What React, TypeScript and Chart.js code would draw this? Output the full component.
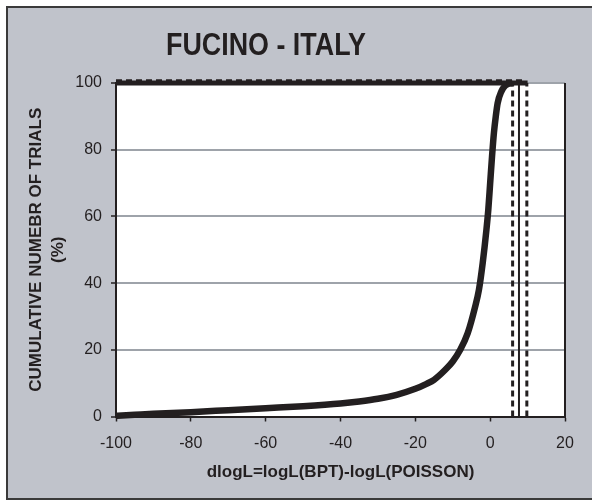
import React, { useEffect, useRef } from "react";
import { Chart, registerables } from "chart.js";

Chart.register(...registerables);

// Cumulative distribution of dlogL over the simulated trials (%)
const dlogL = [-100, -95, -90, -80, -70, -60, -50, -40, -35, -30, -25, -20, -17, -15, -12, -10, -8, -6, -4, -3, -2, -1, -0.5, 0, 0.5, 1, 1.5, 2, 3, 4, 5, 6];
const cumulativePct = [0.2, 0.5, 0.8, 1.3, 1.9, 2.5, 3.1, 3.9, 4.5, 5.3, 6.5, 8.3, 9.8, 11, 14, 16.5, 20, 25, 33, 38, 46, 56, 62, 70, 78, 85, 90, 94, 97.5, 99.2, 99.8, 100];

// Reference lines
const fullLevelX = [-100, 10];
const fullLevelY = [100, 100];
const dashedLevelX = [-100, 8.6];
const dashedLevelY = [100.7, 100.7];
const lowerX = 6.0;
const medianX = 7.7;
const upperX = 9.8;

const xTicks = [-100, -80, -60, -40, -20, 0, 20];
const yTicks = [0, 20, 40, 60, 80, 100];

const TITLE = "FUCINO - ITALY";
const X_TITLE = "dlogL=logL(BPT)-logL(POISSON)";
const Y_TITLE = ["CUMULATIVE NUMEBR OF TRIALS", "(%)"];

const INK = "#231f20";
const GRID = "#9ea3aa";

const pts = (xs: number[], ys: number[]) => xs.map((x, i) => ({ x, y: ys[i] }));

export default function App() {
  const ref = useRef<HTMLCanvasElement | null>(null);

  useEffect(() => {
    if (!ref.current) return;
    Chart.defaults.font.family = "'Liberation Sans', Arial, sans-serif";

    const decorations = {
      id: "decorations",
      beforeDraw(chart: any) {
        const { ctx, chartArea } = chart;
        ctx.save();
        ctx.fillStyle = "#ffffff";
        ctx.fillRect(chartArea.left, chartArea.top, chartArea.right - chartArea.left, chartArea.bottom - chartArea.top);
        ctx.restore();
      },
      afterDraw(chart: any) {
        const { ctx, chartArea } = chart;
        ctx.save();
        // right frame of the plot area
        ctx.strokeStyle = INK;
        ctx.lineWidth = 2;
        ctx.beginPath();
        ctx.moveTo(chartArea.right, chartArea.top);
        ctx.lineTo(chartArea.right, chartArea.bottom);
        ctx.stroke();
        // chart title
        ctx.fillStyle = INK;
        ctx.font = "bold 32px 'Liberation Sans Narrow', 'Arial Narrow', 'Liberation Sans', sans-serif";
        ctx.textAlign = "center";
        ctx.textBaseline = "alphabetic";
        const w = ctx.measureText(TITLE).width;
        const target = 200;
        const cx = 266;
        if (w > target * 1.08) {
          ctx.translate(cx, 55);
          ctx.scale(target / w, 1);
          ctx.fillText(TITLE, 0, 0);
        } else {
          ctx.fillText(TITLE, cx, 55);
        }
        ctx.restore();
      },
    };

    const vline = (x: number, dashed: boolean, width: number) => ({
      data: [{ x, y: 0 }, { x, y: 100 }],
      borderColor: INK,
      borderWidth: width,
      borderDash: dashed ? [6, 4] : [],
      pointRadius: 0,
      showLine: true,
      clip: false as any,
    });

    const chart = new Chart(ref.current, {
      type: "scatter",
      data: {
        datasets: [
          {
            label: "dashed level",
            data: pts(dashedLevelX, dashedLevelY),
            borderColor: INK,
            borderWidth: 3,
            borderDash: [6, 4],
            pointRadius: 0,
            showLine: true,
            clip: false as any,
          },
          { label: "lower", ...vline(lowerX, true, 3) },
          { label: "median", ...vline(medianX, false, 2) },
          { label: "upper", ...vline(upperX, true, 3) },
          {
            label: "full level",
            data: pts(fullLevelX, fullLevelY),
            borderColor: INK,
            borderWidth: 5,
            pointRadius: 0,
            showLine: true,
            clip: false as any,
          },
          {
            label: "trials",
            data: pts(dlogL, cumulativePct),
            borderColor: INK,
            borderWidth: 6.5,
            pointRadius: 0,
            showLine: true,
            cubicInterpolationMode: "monotone",
            clip: false as any,
          },
        ],
      },
      options: {
        animation: false,
        responsive: false,
        maintainAspectRatio: false,
        layout: { padding: { left: 10, top: 83, right: 27, bottom: 14.5 } },
        plugins: { legend: { display: false }, tooltip: { enabled: false }, title: { display: false } },
        scales: {
          x: {
            type: "linear",
            min: -100,
            max: 20,
            afterBuildTicks: (s: any) => {
              s.ticks = xTicks.map((v) => ({ value: v }));
            },
            afterFit: (s: any) => {
              s.height = 70;
            },
            ticks: { color: INK, font: { size: 16 }, padding: 12, maxRotation: 0 },
            grid: { drawOnChartArea: false, tickColor: INK, tickLength: 5, tickWidth: 1.5 },
            border: { color: INK, width: 2 },
            title: {
              display: true,
              text: X_TITLE,
              color: INK,
              font: { size: 17, weight: "bold" },
              padding: { top: 0, bottom: 4 },
            },
          },
          y: {
            type: "linear",
            min: 0,
            max: 100,
            afterBuildTicks: (s: any) => {
              s.ticks = yTicks.map((v) => ({ value: v }));
            },
            afterFit: (s: any) => {
              s.width = 106;
            },
            ticks: { color: INK, font: { size: 16 }, padding: 9 },
            grid: { color: GRID, lineWidth: 2, tickColor: INK, tickLength: 5, tickWidth: 1.5 },
            border: { color: INK, width: 2 },
            title: {
              display: true,
              text: Y_TITLE,
              color: INK,
              font: { size: 17, weight: "bold", lineHeight: 1.265 },
              padding: { top: 15.75, bottom: 0 },
            },
          },
        },
      },
      plugins: [decorations],
    });
    return () => chart.destroy();
  }, []);

  return (
    <div style={{ position: "fixed", left: 0, top: 0, width: 592, height: 501, background: "#fff" }}>
      <div
        style={{
          position: "absolute",
          left: 6,
          top: 6,
          width: 586,
          height: 494,
          boxSizing: "border-box",
          background: "#c0c3cb",
          borderTop: "2px solid #3a3a3a",
          borderLeft: "2px solid #3a3a3a",
          borderBottom: "2px solid #3a3a3a",
        }}
      />
      <div style={{ position: "absolute", left: 0, top: 0, width: 592, height: 501 }}>
        <canvas ref={ref} width={592} height={501} style={{ width: 592, height: 501, display: "block" }} />
      </div>
    </div>
  );
}
